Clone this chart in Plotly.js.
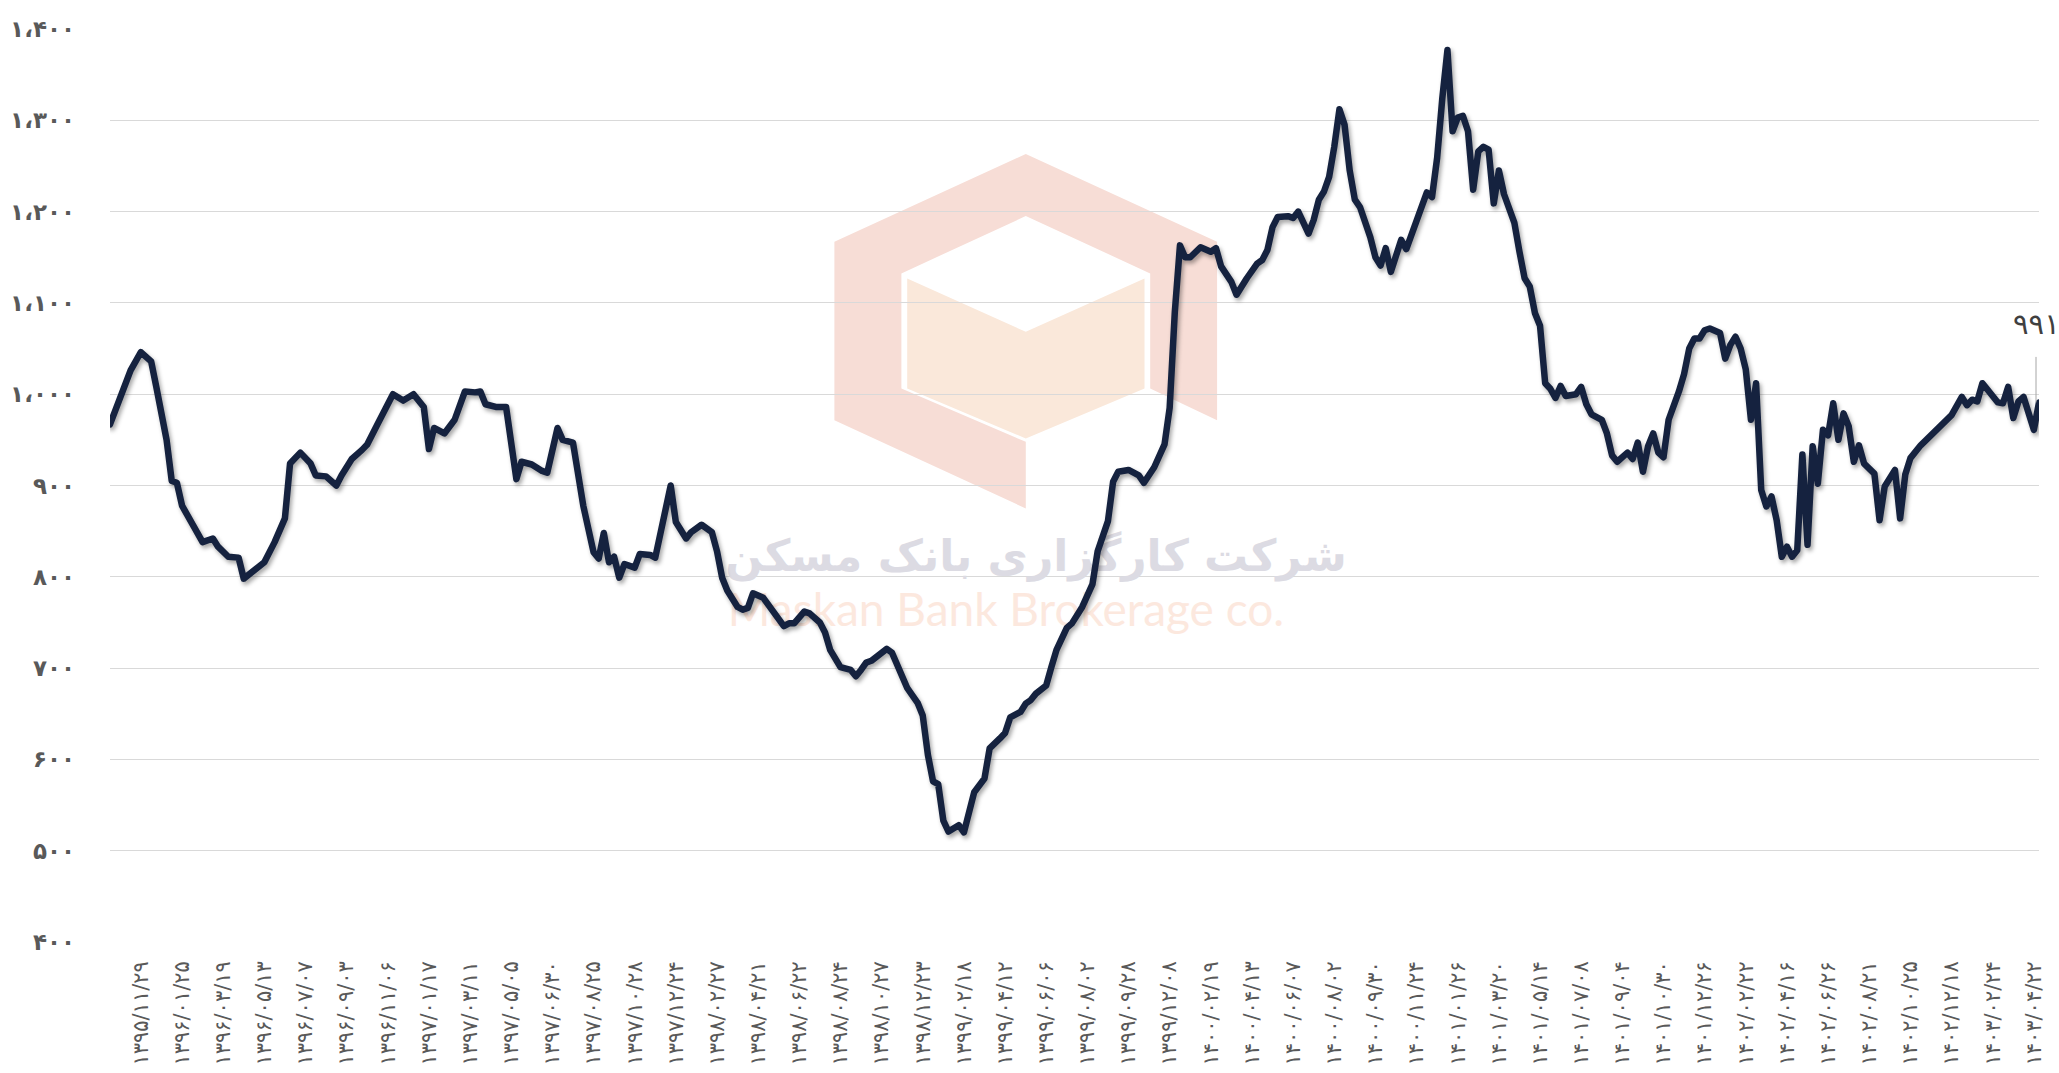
<!DOCTYPE html>
<html>
<head>
<meta charset="utf-8">
<script src="https://cdn.plot.ly/plotly-3.0.1.min.js"></script>
<style>
html,body{margin:0;padding:0;background:#ffffff;}
#chart{width:2059px;height:1073px;}
</style>
</head>
<body>
<div id="chart"></div>
<script>
// ---------------- DATA ----------------
// week index of each observation (0 = first week shown)
const weekIdx = [0,4,6,8,9,11,12,13,14,16,18,20,21,23,25,26,27,30,32,34,35,37,39,40,42,44,45,47,49,50,52,54,55,57,59,61,62,63,65,67,69,71,72,73,75,77,79,80,82,84,85,87,88,90,91,92,94,95,96,97,98,99,100,102,103,105,106,108,109,110,112,113,115,117,118,119,120,122,123,124,125,127,129,131,132,133,135,136,138,139,140,142,144,145,146,147,148,150,151,152,154,155,157,158,159,160,161,162,163,165,166,167,168,170,171,173,174,175,177,178,179,180,182,183,184,186,187,189,191,192,194,195,196,198,200,201,203,205,206,207,208,209,210,212,214,215,216,218,219,221,223,224,225,226,227,229,230,231,232,233,234,235,236,237,238,239,240,241,242,243,245,246,247,248,249,251,252,254,255,256,257,258,259,260,261,262,263,264,265,266,267,268,269,270,271,273,274,275,276,277,278,279,280,281,282,283,285,286,287,288,290,291,292,293,295,296,297,298,299,300,301,302,303,304,305,306,307,308,309,310,311,313,314,315,316,317,318,319,320,321,322,323,324,325,326,327,328,329,330,331,332,333,334,335,336,337,338,339,340,341,342,343,344,345,347,348,349,350,352,354,356,358,360,361,362,363,364,365,367,368,369,370,371,372,374,375];
// index value
const price = [967,1026,1046,1036,1008,950,905,903,878,857,838,842,833,822,821,798,802,816,838,864,924,936,924,911,910,900,911,929,939,945,967,989,1000,993,1000,986,940,963,957,972,1003,1002,1003,989,986,986,907,926,923,916,914,963,950,947,911,878,827,820,848,816,822,799,814,810,825,824,821,871,900,860,842,849,857,849,828,799,785,767,764,766,782,777,760,746,749,749,762,760,750,739,720,701,698,691,698,706,708,716,721,717,688,678,662,648,605,576,573,533,521,528,520,543,564,579,612,623,629,646,652,661,665,672,681,701,720,744,749,767,792,828,861,904,915,917,911,903,920,945,985,1090,1163,1150,1150,1161,1156,1160,1140,1123,1109,1127,1143,1147,1158,1183,1194,1195,1193,1200,1187,1176,1191,1213,1222,1238,1271,1312,1295,1245,1213,1205,1172,1150,1141,1160,1134,1169,1159,1188,1202,1221,1216,1259,1324,1377,1288,1303,1305,1288,1224,1266,1271,1268,1209,1245,1219,1188,1156,1127,1118,1089,1075,1012,1006,996,1009,998,1000,1008,989,978,972,957,933,926,936,929,947,915,943,957,936,931,972,986,1003,1022,1050,1061,1061,1070,1072,1067,1039,1054,1063,1050,1027,972,1012,895,877,888,862,822,833,822,829,934,835,943,902,961,955,990,950,979,965,926,944,924,919,913,862,899,917,864,912,930,944,955,968,977,997,988,994,992,1012,1005,991,990,1008,974,992,997,961,991];

// category labels (every 8th week)
const xTickLabels = ["۱۳۹۵/۱۱/۲۹","۱۳۹۶/۰۱/۲۵","۱۳۹۶/۰۳/۱۹","۱۳۹۶/۰۵/۱۳","۱۳۹۶/۰۷/۰۷","۱۳۹۶/۰۹/۰۳","۱۳۹۶/۱۱/۰۶","۱۳۹۷/۰۱/۱۷","۱۳۹۷/۰۳/۱۱","۱۳۹۷/۰۵/۰۵","۱۳۹۷/۰۶/۳۰","۱۳۹۷/۰۸/۲۵","۱۳۹۷/۱۰/۲۸","۱۳۹۷/۱۲/۲۴","۱۳۹۸/۰۲/۲۷","۱۳۹۸/۰۴/۲۱","۱۳۹۸/۰۶/۲۲","۱۳۹۸/۰۸/۲۴","۱۳۹۸/۱۰/۲۷","۱۳۹۸/۱۲/۲۳","۱۳۹۹/۰۲/۱۸","۱۳۹۹/۰۴/۱۲","۱۳۹۹/۰۶/۰۶","۱۳۹۹/۰۸/۰۲","۱۳۹۹/۰۹/۲۸","۱۳۹۹/۱۲/۰۸","۱۴۰۰/۰۲/۱۹","۱۴۰۰/۰۴/۱۳","۱۴۰۰/۰۶/۰۷","۱۴۰۰/۰۸/۰۲","۱۴۰۰/۰۹/۳۰","۱۴۰۰/۱۱/۲۴","۱۴۰۱/۰۱/۲۶","۱۴۰۱/۰۳/۲۰","۱۴۰۱/۰۵/۱۴","۱۴۰۱/۰۷/۰۸","۱۴۰۱/۰۹/۰۴","۱۴۰۱/۱۰/۳۰","۱۴۰۱/۱۲/۲۶","۱۴۰۲/۰۲/۲۲","۱۴۰۲/۰۴/۱۶","۱۴۰۲/۰۶/۲۶","۱۴۰۲/۰۸/۲۱","۱۴۰۲/۱۰/۲۵","۱۴۰۲/۱۲/۱۸","۱۴۰۳/۰۲/۲۴","۱۴۰۳/۰۴/۲۲"];
const firstLabelWeek = 6;
const labelEvery = 8;

const yTickValues = [400,500,600,700,800,900,1000,1100,1200,1300,1400];
const yTickLabels = ["۴۰۰","۵۰۰","۶۰۰","۷۰۰","۸۰۰","۹۰۰","۱،۰۰۰","۱،۱۰۰","۱،۲۰۰","۱،۳۰۰","۱،۴۰۰"];

const lastValueLabel = "۹۹۱";
const watermarkFa = "شرکت کارگزاری بانک مسکن";
const watermarkEn = "Maskan Bank Brokerage co.";

// ---------------- LAYOUT GEOMETRY ----------------
const W = 2059, H = 1073;
const M = {l:110, r:20, t:29, b:131.3};
const xRange = [0, 375], yRange = [400, 1400];
const pw = W - M.l - M.r, ph = H - M.t - M.b;
function px2x(px){ return xRange[0] + (px - M.l) / pw * (xRange[1] - xRange[0]); }
function py2y(py){ return yRange[1] - (py - M.t) / ph * (yRange[1] - yRange[0]); }
function pX(px){ return ((px - M.l) / pw).toFixed(5); }
function pY(py){ return ((H - M.b - py) / ph).toFixed(5); }
function pathFrom(pts){ return 'M' + pts.map(p => pX(p[0]) + ',' + pY(p[1])).join('L') + 'Z'; }

// watermark logo (page pixel positions)
const logoPink = [[1025.8,154],[1217.1,241.7],[1217.1,420],[1150.2,388.3],[1150.2,273.3],[1025.8,216],[901.4,273.3],[901.4,388.3],[1025.8,441.7],[1025.8,508.3],[834.4,420],[834.4,241.7]];
const logoPeach = [[907.2,278.3],[1025.8,331.7],[1144.5,278.3],[1144.5,388.3],[1025.8,438.3],[907.2,388.3]];

const tickVals = xTickLabels.map((_, k) => firstLabelWeek + k * labelEvery);

const traces = [
  {
    type:'scatter', mode:'text', x:[px2x(1036)], y:[py2y(560)], text:[watermarkFa],
    textfont:{family:'DejaVu Sans', size:44, color:'#dcdbe3', weight:'bold'},
    hoverinfo:'skip', showlegend:false, cliponaxis:false
  },
  {
    type:'scatter', mode:'text', x:[px2x(1006)], y:[py2y(614)], text:[watermarkEn],
    textfont:{family:'Lato', size:46, color:'#fce8de'},
    hoverinfo:'skip', showlegend:false, cliponaxis:false
  },
  {
    type:'scatter', mode:'lines', x:weekIdx, y:price,
    line:{color:'#15223f', width:6.5},
    hoverinfo:'x+y', showlegend:false, cliponaxis:false
  }
];

const layout = {
  width:W, height:H,
  margin:{l:M.l, r:M.r, t:M.t, b:M.b, pad:0},
  paper_bgcolor:'#ffffff', plot_bgcolor:'rgba(0,0,0,0)',
  showlegend:false,
  xaxis:{
    range:xRange, tickmode:'array', tickvals:tickVals, ticktext:xTickLabels,
    tickangle:-90, showgrid:false, zeroline:false, showline:false, ticks:'',
    ticklabelstandoff:14,
    tickfont:{family:'DejaVu Sans', size:21, color:'#595959'}
  },
  yaxis:{
    range:yRange, tickmode:'array', tickvals:yTickValues, ticktext:yTickLabels,
    showgrid:true, gridcolor:'#d9d9d9', gridwidth:1, zeroline:false, showline:false, ticks:'',
    ticklabelstandoff:34,
    tickfont:{family:'DejaVu Sans', size:23, color:'#595959', weight:'bold'}
  },
  shapes:[
    {type:'path', xref:'paper', yref:'paper', layer:'below', path:pathFrom(logoPink), fillcolor:'#f7ddd6', line:{width:0}},
    {type:'path', xref:'paper', yref:'paper', layer:'below', path:pathFrom(logoPeach), fillcolor:'#fae8da', line:{width:0}}
  ],
  annotations:[
    {
      x:weekIdx[weekIdx.length-1], y:price[price.length-1], xref:'x', yref:'y',
      text:lastValueLabel, showarrow:true, arrowhead:0, arrowwidth:1, arrowcolor:'#a6a6a6',
      ax:0, ay:-78, startstandoff:14, xshift:-3,
      font:{family:'DejaVu Sans', size:29, color:'#404040'}
    }
  ]
};

Plotly.newPlot('chart', traces, layout, {displayModeBar:false, staticPlot:true}).then(gd => {
  const tr = gd.querySelectorAll('.scatterlayer .trace');
  const main = tr[tr.length-1];
  if (main) {
    main.querySelectorAll('path.js-line').forEach(p => {
      p.style.strokeLinejoin = 'round';
      p.style.strokeLinecap = 'round';
      p.style.filter = 'drop-shadow(2px 3px 2px rgba(0,0,0,0.35))';
    });
  }
});
</script>
</body>
</html>
